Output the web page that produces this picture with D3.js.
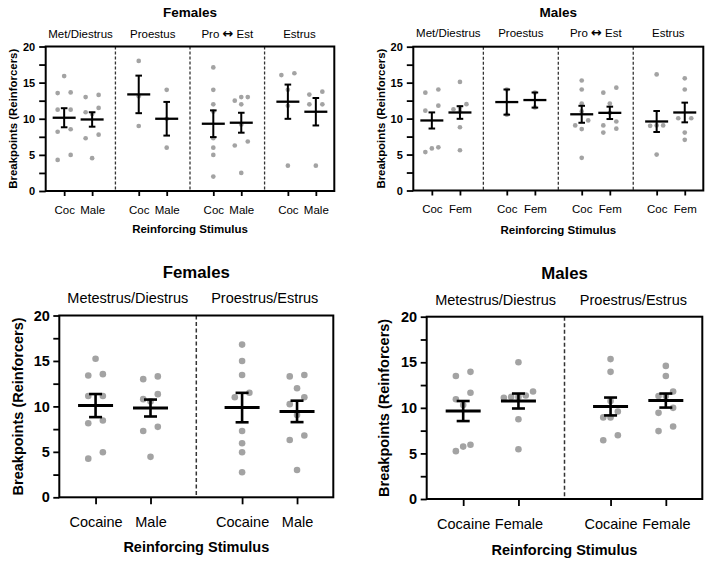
<!DOCTYPE html>
<html><head><meta charset="utf-8">
<script src="https://cdn.jsdelivr.net/npm/d3@7"></script>
<style>
body{margin:0;background:#fff}
svg{display:block}
text{font-family:"Liberation Sans",Arial,Helvetica,sans-serif;fill:#000}
</style>
</head><body>
<svg id="chart" width="714" height="565"></svg>
<script>
// ---------------- DATA ----------------
const yTicks = [0, 5, 10, 15, 20];
const yTickStep = 2.5;

const stagesTop = ["Met/Diestrus", "Proestus", "Pro ↔ Est", "Estrus"];
const stagesBottom = ["Metestrus/Diestrus", "Proestrus/Estrus"];
const stimFemTop = ["Coc", "Male"];
const stimMaleTop = ["Coc", "Fem"];
const stimFemBottom = ["Cocaine", "Male"];
const stimMaleBottom = ["Cocaine", "Female"];

// individual breakpoints, one list per column (stage x stimulus)
const femTopPoints = [
  [15.9, 13.55, 13.65, 11.25, 11.25, 8.2, 8.55, 4.3, 5.0],
  [13.3, 13.0, 10.9, 11.5, 10.65, 7.3, 7.8, 4.55],
  [18.0, 13.1, 9.0],
  [14.0, 10.0, 6.0],
  [17.1, 14.0, 12.0, 11.0, 7.3, 6.0, 5.0, 2.0],
  [13.0, 13.0, 12.5, 12.0, 9.2, 6.3, 6.85, 2.5],
  [16.3, 16.05, 14.0, 11.8, 3.5],
  [13.75, 13.35, 12.0, 12.0, 3.5]
];
const femTopMeans = [10.14, 9.9, 13.37, 10.0, 9.31, 9.45, 12.36, 10.97];
const femTopSems  = [1.32, 1.0, 2.6, 2.33, 1.85, 1.38, 2.37, 1.9];

const maleTopPoints = [
  [13.6, 14.05, 11.8, 11.1, 5.35, 6.0, 5.85],
  [15.1, 12.0, 11.5, 11.3, 11.0, 8.8, 5.6],
  [14.05, 10.55],
  [13.6, 11.55],
  [15.3, 14.05, 12.1, 11.0, 9.05, 9.75, 8.55, 4.55],
  [13.6, 14.3, 12.1, 10.8, 9.05, 9.6, 8.05, 8.6],
  [16.15, 9.05, 9.05, 9.0, 5.0],
  [15.6, 14.05, 10.05, 10.05, 8.05, 7.05]
];
const maleTopMeans = [9.74, 10.85, 12.3, 12.58, 10.6, 10.8, 9.6, 10.85];
const maleTopSems  = [1.12, 0.88, 1.75, 1.05, 1.18, 0.86, 1.46, 1.37];

const femBottomPoints = [
  [15.25, 13.4, 13.55, 11.15, 11.15, 8.15, 8.45, 4.25, 4.95],
  [13.3, 13.0, 10.8, 11.35, 10.55, 7.3, 7.75, 4.45],
  [16.8, 15.0, 13.45, 11.0, 11.5, 7.3, 5.95, 4.95, 2.75],
  [13.3, 13.45, 12.0, 10.25, 11.0, 9.05, 6.8, 6.3, 3.0]
];
const femBottomMeans = [10.09, 9.82, 9.87, 9.45];
const femBottomSems  = [1.27, 0.93, 1.62, 1.18];

const maleBottomPoints = [
  [13.5, 13.95, 11.65, 10.95, 10.3, 5.25, 5.95, 5.75],
  [15.0, 11.8, 11.1, 11.2, 11.2, 11.35, 8.75, 5.45],
  [15.35, 13.95, 10.75, 9.6, 8.95, 8.95, 6.45, 7.0],
  [14.6, 13.5, 11.8, 11.3, 11.3, 10.0, 9.45, 7.45, 7.95]
];
const maleBottomMeans = [9.65, 10.75, 10.15, 10.8];
const maleBottomSems  = [1.1, 0.82, 0.98, 0.77];

// ---------------- STYLE / LAYOUT ----------------
const small = {titleFs:13.5, subFs:11.5, tickFs:11.5, axFs:11.5, yTickFs:11, yTitleFs:11.4,
  r:2.35, slot:6.5, meanHalf:11.5, capHalf:3.3, barW:2, meanW:2.3, frameW:2,
  dash:"3,2", dashW:1.3, xTick:5, yTick:6.5, yPad:4};
const large = {titleFs:16.8, subFs:14.5, tickFs:14.5, axFs:14.5, yTickFs:14.5, yTitleFs:14.5,
  r:3.3, slot:7.3, meanHalf:17.5, capHalf:6.5, barW:2.6, meanW:3, frameW:2,
  dash:"4,2.5", dashW:1.5, xTick:7, yTick:6, yPad:3.5};

const panels = [
  {st:small, title:"Females", stages:stagesTop, stims:stimFemTop, pts:femTopPoints, means:femTopMeans, sems:femTopSems,
   x0:45.7, x1:334.3, yTop:46.5, yBot:191, titleY:16.7, subY:38.3, tickY:214, axY:233.4, yTitleX:17.4},
  {st:small, title:"Males", stages:stagesTop, stims:stimMaleTop, pts:maleTopPoints, means:maleTopMeans, sems:maleTopSems,
   x0:413.3, x1:703.3, yTop:46.7, yBot:190.5, titleY:16.5, subY:36.6, tickY:212.6, axY:234, yTitleX:384.8},
  {st:large, title:"Females", stages:stagesBottom, stims:stimFemBottom, pts:femBottomPoints, means:femBottomMeans, sems:femBottomSems,
   x0:59.3, x1:333.3, yTop:315.5, yBot:497.3, titleY:277.7, subY:303, tickY:527, axY:552, yTitleX:22.5},
  {st:large, title:"Males", stages:stagesBottom, stims:stimMaleBottom, pts:maleBottomPoints, means:maleBottomMeans, sems:maleBottomSems,
   x0:426.7, x1:702.3, yTop:316.7, yBot:499, titleY:278.7, subY:305.2, tickY:529.2, axY:554.5, yTitleX:389.2}
];

const svg = d3.select("#chart");

// arrange overlapping points side by side (scatter-dot-plot style)
function spread(vals, y, diam, slot) {
  const sorted = vals.slice().sort((a, b) => b - a);
  const rows = []; let cur = null;
  sorted.forEach(v => {
    if (cur && Math.abs(y(v) - y(cur[0])) < diam * 1.1) cur.push(v);
    else { cur = [v]; rows.push(cur); }
  });
  const out = [];
  rows.forEach(r => {
    r.sort((a, b) => a - b);
    const n = r.length;
    r.forEach((v, k) => {
      let o;
      if (n % 2) o = k - (n - 1) / 2;
      else { o = k - n / 2; if (o >= 0) o += 1; }
      out.push({v, dx: o * slot});
    });
  });
  return out;
}

function drawPanel(p) {
  const s = p.st;
  const g = svg.append("g");
  const y = d3.scaleLinear().domain([0, 20]).range([p.yBot, p.yTop]);
  const gx = d3.scalePoint().domain(p.stages).range([p.x0, p.x1]).padding(0.435);
  const step = gx.step();
  const off = 0.1875 * step;

  const keys = [], pos = [];
  p.stages.forEach(stage => p.stims.forEach((sm, j) => {
    keys.push(stage + "|" + sm);
    pos.push(gx(stage) + (j ? off : -off));
  }));
  const xs = d3.scaleOrdinal().domain(keys).range(pos);

  // dashed dividers between stages
  const divs = p.stages.slice(1);
  g.selectAll("line.div").data(divs).join("line")
    .attr("x1", d => gx(d) - step / 2).attr("x2", d => gx(d) - step / 2)
    .attr("y1", p.yTop).attr("y2", p.yBot)
    .attr("stroke", "#333").attr("stroke-width", s.dashW).attr("stroke-dasharray", s.dash);

  // subtitles centred over each stage section
  g.selectAll("text.sub").data(p.stages).join("text")
    .attr("x", (d, i) => {
      const a = i === 0 ? p.x0 : gx(d) - step / 2;
      const b = i === p.stages.length - 1 ? p.x1 : gx(d) + step / 2;
      return (a + b) / 2;
    })
    .attr("y", p.subY).attr("text-anchor", "middle").attr("font-size", s.subFs)
    .each(function(d) {
      const t = d3.select(this);
      if (d.includes("↔")) {
        const parts = d.split("↔");
        t.append("tspan").text(parts[0]);
        t.append("tspan").text("↔").attr("font-family", "DejaVu Sans").attr("font-weight", "bold").attr("font-size", s.subFs * 1.12);
        t.append("tspan").text(parts[1]);
      } else t.text(d);
    });

  // dots
  keys.forEach((k, i) => {
    const arr = spread(p.pts[i], y, s.r * 2, s.slot);
    g.append("g").selectAll("circle").data(arr).join("circle")
      .attr("cx", d => xs(k) + d.dx).attr("cy", d => y(d.v)).attr("r", s.r)
      .attr("fill", "#a3a3a3");
  });

  // mean +/- SEM
  keys.forEach((k, i) => {
    const cx = xs(k), m = p.means[i], e = p.sems[i];
    const eg = g.append("g").attr("stroke", "#000").attr("fill", "none");
    eg.append("line").attr("x1", cx).attr("x2", cx).attr("y1", y(m + e)).attr("y2", y(m - e)).attr("stroke-width", s.barW);
    [m + e, m - e].forEach(v => eg.append("line").attr("x1", cx - s.capHalf).attr("x2", cx + s.capHalf)
      .attr("y1", y(v)).attr("y2", y(v)).attr("stroke-width", s.barW));
    eg.append("line").attr("x1", cx - s.meanHalf).attr("x2", cx + s.meanHalf)
      .attr("y1", y(m)).attr("y2", y(m)).attr("stroke-width", s.meanW);
  });

  // frame
  g.append("rect").attr("x", p.x0).attr("y", p.yTop).attr("width", p.x1 - p.x0).attr("height", p.yBot - p.yTop)
    .attr("fill", "none").attr("stroke", "#000").attr("stroke-width", s.frameW);

  // y axis
  const yAx = g.append("g").attr("transform", `translate(${p.x0},0)`)
    .call(d3.axisLeft(y).tickValues(d3.range(0, 20 + 1e-6, yTickStep))
      .tickFormat(d => yTicks.includes(d) ? d : "").tickSize(s.yTick).tickPadding(s.yPad).tickSizeOuter(0));
  yAx.select(".domain").remove();
  yAx.selectAll(".tick line").attr("stroke-width", 1.8);
  yAx.selectAll(".tick text").attr("font-size", s.yTickFs).attr("font-weight", "bold")
    .attr("font-family", "Liberation Sans, Arial, sans-serif");

  // x axis
  const xPad = (p.tickY - p.yBot) - s.xTick - 0.71 * s.tickFs;
  const xAx = g.append("g").attr("transform", `translate(0,${p.yBot})`)
    .call(d3.axisBottom(xs).tickSize(s.xTick).tickPadding(xPad).tickFormat(k => k.split("|")[1]));
  xAx.select(".domain").remove();
  xAx.selectAll(".tick line").attr("stroke-width", 1.8);
  xAx.selectAll(".tick text").attr("font-size", s.tickFs).attr("font-family", "Liberation Sans, Arial, sans-serif");

  const cx = (p.x0 + p.x1) / 2, cy = (p.yTop + p.yBot) / 2;
  g.append("text").attr("x", cx).attr("y", p.titleY).attr("text-anchor", "middle")
    .attr("font-size", s.titleFs).attr("font-weight", "bold").text(p.title);
  g.append("text").attr("x", cx).attr("y", p.axY).attr("text-anchor", "middle")
    .attr("font-size", s.axFs).attr("font-weight", "bold").text("Reinforcing Stimulus");
  g.append("text").attr("transform", `translate(${p.yTitleX},${cy}) rotate(-90)`).attr("text-anchor", "middle")
    .attr("font-size", s.yTitleFs).attr("font-weight", "bold").text("Breakpoints (Reinforcers)");
}

panels.forEach(drawPanel);
</script>
</body></html>
